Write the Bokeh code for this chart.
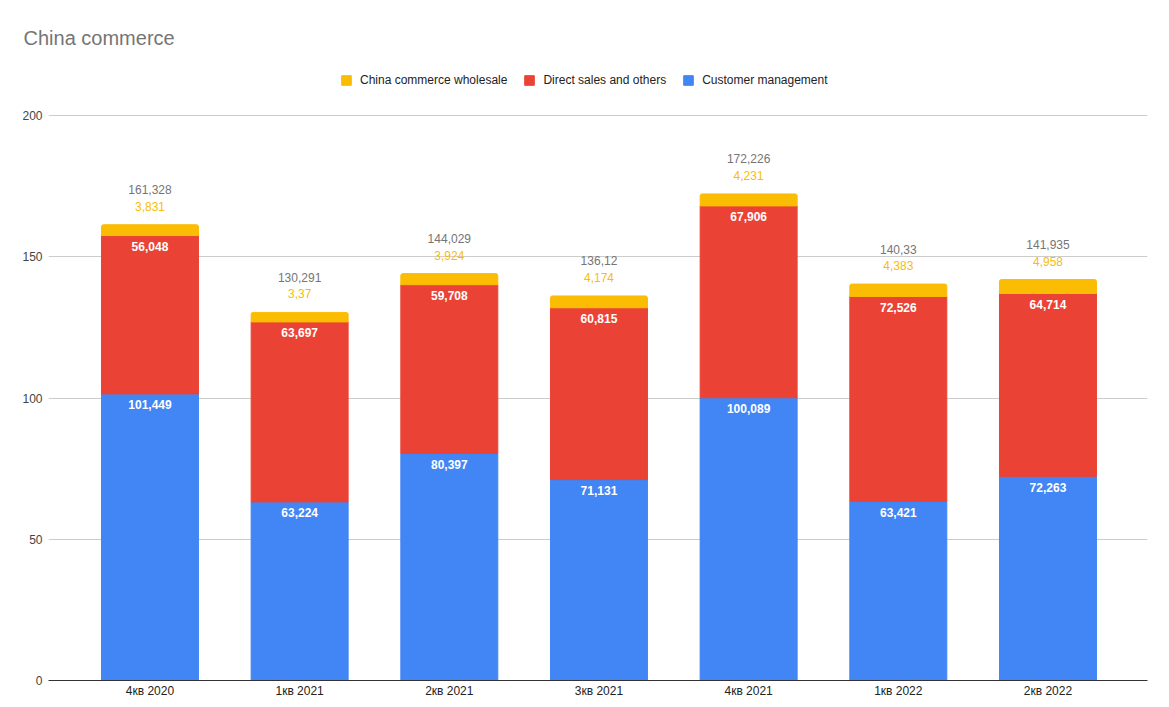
from bokeh.plotting import figure
from bokeh.models import (ColumnDataSource, LabelSet, Legend, LegendItem, Range1d,
                          FixedTicker)
from bokeh.core.properties import value
from bokeh.embed import file_html
from bokeh.resources import INLINE

categories = ["4кв 2020", "1кв 2021", "2кв 2021", "3кв 2021", "4кв 2021", "1кв 2022", "2кв 2022"]
customer = [101.449, 63.224, 80.397, 71.131, 100.089, 63.421, 72.263]
direct = [56.048, 63.697, 59.708, 60.815, 67.906, 72.526, 64.714]
wholesale = [3.831, 3.37, 3.924, 4.174, 4.231, 4.383, 4.958]
y_ticks = [0, 50, 100, 150, 200]

FONT = "Liberation Sans"
BLUE, RED, YELLOW = "#4285F4", "#EA4335", "#FBBC04"


def fmt(v):
    return ("%.3f" % v).rstrip("0").rstrip(".").replace(".", ",")


xs = list(range(len(categories)))
top1 = [c for c in customer]
top2 = [c + d for c, d in zip(customer, direct)]
top3 = [round(c + d + w, 3) for c, d, w in zip(customer, direct, wholesale)]

src = ColumnDataSource(dict(
    x=xs, cm=customer, ds=direct, ws=wholesale,
    top1=top1, top2=top2, top3=top3,
    l1=[fmt(v) for v in customer], l2=[fmt(v) for v in direct],
    l3=[fmt(v) for v in wholesale], lt=[fmt(v) for v in top3],
))

# layout (pixels)
FRAME_TOP = 53
FRAME_BOTTOM = 680
GRID_TOP = 115            # where 200 sits
FRAME_H = FRAME_BOTTOM - FRAME_TOP
Y_END = 200 * FRAME_H / (FRAME_BOTTOM - GRID_TOP)

p = figure(frame_width=1099, frame_height=FRAME_H, output_backend="svg",
           toolbar_location=None,
           x_range=Range1d(-0.678, 6.665), y_range=Range1d(0, Y_END),
           min_border_left=48, min_border_right=6, min_border_top=FRAME_TOP,
           min_border_bottom=20, title="China commerce")
p.outline_line_color = None
p.background_fill_color = "white"
p.border_fill_color = "white"

W = 0.648
r1 = p.vbar(x="x", bottom=0, top="top1", width=W, color=BLUE, source=src)
r2 = p.vbar(x="x", bottom="top1", top="top2", width=W, color=RED, source=src)
r3 = p.vbar(x="x", bottom="top2", top="top3", width=W, color=YELLOW, source=src,
            border_radius=(2, 2, 0, 0))

# axes
p.xaxis.ticker = FixedTicker(ticks=xs)
p.xaxis.major_label_overrides = {i: c for i, c in enumerate(categories)}
p.xaxis.major_tick_line_color = None
p.xaxis.major_tick_out = 0
p.xaxis.major_tick_in = 0
p.xaxis.minor_tick_line_color = None
p.xaxis.axis_line_color = "#333333"
p.xaxis.major_label_text_font = FONT
p.xaxis.major_label_text_font_size = "12px"
p.xaxis.major_label_text_color = "#222222"
p.xaxis.major_label_standoff = 3
p.xgrid.grid_line_color = None

p.yaxis.ticker = FixedTicker(ticks=y_ticks)
p.yaxis.axis_line_color = None
p.yaxis.major_tick_line_color = None
p.yaxis.major_tick_out = 0
p.yaxis.major_tick_in = 0
p.yaxis.minor_tick_line_color = None
p.yaxis.major_label_text_font = FONT
p.yaxis.major_label_text_font_size = "12px"
p.yaxis.major_label_text_color = "#444444"
p.yaxis.major_label_standoff = 6
p.ygrid.grid_line_color = "#cccccc"
p.ygrid.ticker = FixedTicker(ticks=y_ticks)

# labels
common = dict(source=src, x="x", text_font=value(FONT), text_font_size=value("12px"),
              text_align="center", text_baseline="middle")
p.add_layout(LabelSet(y="top1", text="l1", y_offset=-11, text_color="white",
                      text_font_style="bold", **common))
p.add_layout(LabelSet(y="top2", text="l2", y_offset=-11, text_color="white",
                      text_font_style="bold", **common))
p.add_layout(LabelSet(y="top3", text="l3", y_offset=18.5, text_color=YELLOW, **common))
p.add_layout(LabelSet(y="top3", text="lt", y_offset=35, text_color="#757575", **common))

# title
p.title.text_font = FONT
p.title.text_font_size = "20px"
p.title.text_font_style = "normal"
p.title.text_color = "#757575"
p.title.align = "left"
p.title.offset = -25

LEG_H = 15
legend = Legend(items=[
    LegendItem(label="China commerce wholesale", renderers=[r3]),
    LegendItem(label="Direct sales and others", renderers=[r2]),
    LegendItem(label="Customer management", renderers=[r1]),
], orientation="horizontal", location=(292, FRAME_H - 19 - LEG_H))
legend.label_text_font = FONT
legend.label_text_font_size = "12px"
legend.label_text_color = "#222222"
legend.glyph_width = 12
legend.glyph_height = 12
legend.label_standoff = 8
legend.spacing = 16
legend.padding = 5
legend.margin = 0
legend.border_line_color = None
legend.background_fill_alpha = 0
legend.label_height = 14
p.add_layout(legend, "center")

open("out.html", "w").write(file_html(p, INLINE))
